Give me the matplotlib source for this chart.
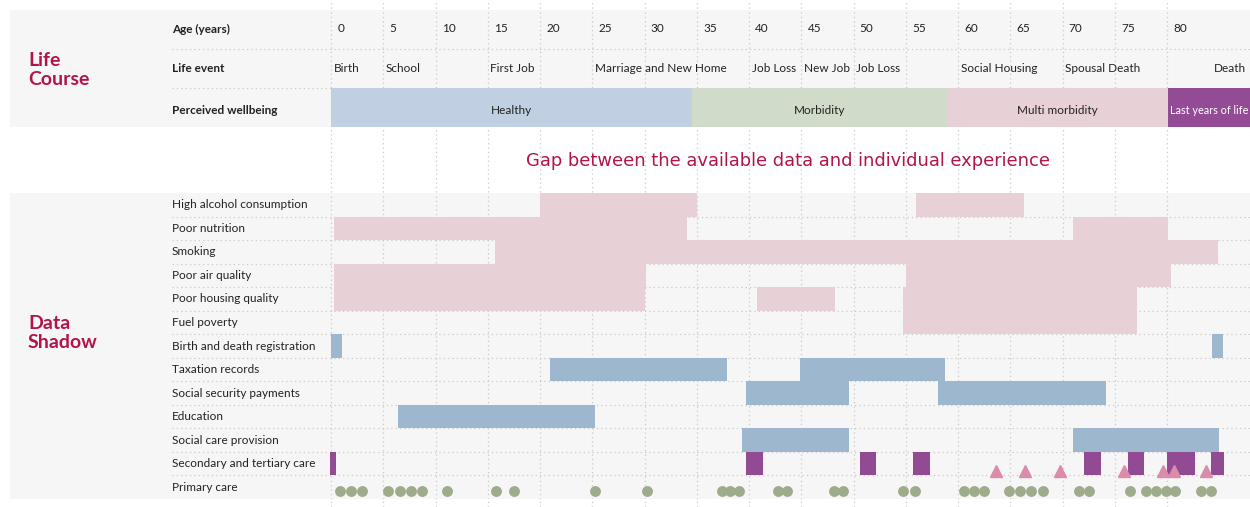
import numpy as np
import matplotlib.pyplot as plt
from matplotlib.transforms import blended_transform_factory

plt.rcParams['font.family'] = ['Lato', 'DejaVu Sans']

# ---- data ----
age_ticks = list(range(0, 85, 5))

event_names = ["Birth", "School", "First Job", "Marriage and New Home", "Job Loss",
               "New Job", "Job Loss", "Social Housing", "Spousal Death", "Death"]
event_ages = [0, 5, 15, 25, 40, 45, 50, 60, 70, 85]

wellbeing_names = ["Healthy", "Morbidity", "Multi morbidity", "Last years of life"]
wellbeing_start = [0, 34.5, 59, 80.1]
wellbeing_end = [34.5, 59, 80.1, 88]

shadow_rows = ["High alcohol consumption", "Poor nutrition", "Smoking", "Poor air quality",
               "Poor housing quality", "Fuel poverty", "Birth and death registration",
               "Taxation records", "Social security payments", "Education",
               "Social care provision", "Secondary and tertiary care", "Primary care"]

alcohol = [(20, 35), (56, 66.3)]
nutrition = [(0.3, 34.1), (71, 80.1)]
smoking = [(15.7, 84.9)]
air_quality = [(0.3, 30.1), (55, 80.4)]
housing = [(0.3, 30), (40.8, 48.2), (54.7, 77.1)]
fuel_poverty = [(54.7, 77.1)]

registration = [(0, 1.05), (84.3, 85.4)]
taxation = [(21, 37.9), (44.9, 58.8)]
social_security = [(39.7, 49.6), (58.1, 74.2)]
education = [(6.4, 25.3)]
social_care = [(39.3, 49.6), (71, 85)]

hospital = [(-0.1, 0.5), (39.75, 41.35), (50.6, 52.2), (55.7, 57.3), (72.1, 73.7),
            (76.3, 77.8), (80, 82.7), (84.2, 85.5)]
hospital_triangles = [63.6, 66.4, 69.8, 75.9, 79.6, 80.7, 83.7]
primary_care = [0.9, 1.9, 3.0, 5.5, 6.6, 7.7, 8.7, 11.1, 15.8, 17.5, 25.3, 30.2,
                37.4, 38.2, 39.0, 42.8, 43.6, 48.1, 49.0, 54.7, 55.9, 60.6, 61.5, 62.5,
                64.9, 65.9, 67.0, 68.1, 71.6, 72.5, 76.5, 78.0, 78.9, 79.9, 80.8, 83.3, 84.2]

# ---- styling ----
W, H = 1250, 507
X0_PX, PX_PER_YEAR = 331, 10.45
PANEL_BG = "#f6f6f6"
GRID = "#c9c9c9"
PINK = "#e8d1d6"
BLUE = "#9db7cf"
PURPLE = "#924a93"
GREEN = "#9eac8b"
TRI = "#da8caa"
RED = "#b3134b"
TXT = "#222222"


def px2age(px):
    return (px - X0_PX) / PX_PER_YEAR


fig = plt.figure(figsize=(W / 100, H / 100), dpi=100)

# background axes over the whole figure, for the vertical grid in the gaps
bg = fig.add_axes([0, 0, 1, 1])
bg.set_xlim(px2age(0), px2age(W))
bg.set_ylim(0, 1)
bg.axis("off")
for a in age_ticks:
    bg.axvline(a, color=GRID, lw=0.9, ls=(0, (1, 2.5)), zorder=0)
bg.text(px2age(788), 1 - 161 / H, "Gap between the available data and individual experience",
        ha="center", va="center", color=RED, fontsize=12.9, family="DejaVu Sans")


def panel(top_px, bottom_px, nrows):
    ax = fig.add_axes([10 / W, 1 - bottom_px / H, (W - 10) / W, (bottom_px - top_px) / H])
    ax.set_facecolor(PANEL_BG)
    ax.set_xlim(px2age(10), px2age(W))
    ax.set_ylim(nrows - 0.5, -0.5)
    for s in ax.spines.values():
        s.set_visible(False)
    ax.set_xticks([])
    ax.set_yticks([])
    for a in age_ticks:
        ax.axvline(a, color=GRID, lw=0.9, ls=(0, (1, 2.5)), zorder=0)
    ax.hlines(np.arange(nrows - 1) + 0.5, px2age(172), px2age(W), color=GRID,
              lw=0.9, ls=(0, (1, 2.5)), zorder=0)
    return ax


# ---- life course panel ----
top = panel(9.5, 126.5, 3)
lab = blended_transform_factory(fig.transFigure, top.transData)
top.text(28 / W, 1.05, "Life\nCourse", transform=lab, color=RED, fontsize=14,
         fontweight="bold", va="center", ha="left", linespacing=1.2)
for i, name in enumerate(["Age (years)", "Life event", "Perceived wellbeing"]):
    top.text(172 / W, i + (0.08 if i == 2 else 0), name, transform=lab, fontsize=8.5,
             fontweight="bold", color=TXT, va="center")
for a in age_ticks:
    top.text(a + 0.6, 0, str(a), fontsize=8.5, color=TXT, va="center")
for name, a in zip(event_names[:-1], event_ages[:-1]):
    top.text(a + 0.25, 1, name, fontsize=8.5, color=TXT, va="center")
top.text(px2age(1246), 1, event_names[-1], fontsize=8.5, color=TXT, va="center", ha="right")
band_colors = ["#c0d0e2", "#d0dcc9", "#e8d1d6", "#944b96"]
for name, s, e, c in zip(wellbeing_names, wellbeing_start, wellbeing_end, band_colors):
    last = name == "Last years of life"
    top.broken_barh([(s, e - s)], (1.5, 1), facecolors=c, zorder=2)
    top.text((s + e) / 2, 2.08, name, ha="center", va="center",
             fontsize=7.8 if last else 8.5, color="white" if last else TXT, zorder=3)

# ---- data shadow panel ----
bot = panel(193, 499, len(shadow_rows))
lab2 = blended_transform_factory(fig.transFigure, bot.transData)
bot.text(28 / W, 5.45, "Data\nShadow", transform=lab2, color=RED, fontsize=14,
         fontweight="bold", va="center", ha="left", linespacing=1.2)
for i, name in enumerate(shadow_rows):
    bot.text(172 / W, i, name, transform=lab2, fontsize=8.5, color=TXT, va="center")

segments = [alcohol, nutrition, smoking, air_quality, housing, fuel_poverty,
            registration, taxation, social_security, education, social_care, hospital]
colors = [PINK] * 6 + [BLUE] * 5 + [PURPLE]
for i, (seg, c) in enumerate(zip(segments, colors)):
    bot.broken_barh([(s, e - s) for s, e in seg], (i - 0.5, 1), facecolors=c, zorder=2)

bot.plot(hospital_triangles, [11.3] * len(hospital_triangles), ls="none", marker="^",
         ms=8, color=TRI, zorder=3)
bot.plot(primary_care, [12.15] * len(primary_care), ls="none", marker="o",
         ms=6.8, color=GREEN, zorder=3)

fig.savefig("out.png", dpi=100)
